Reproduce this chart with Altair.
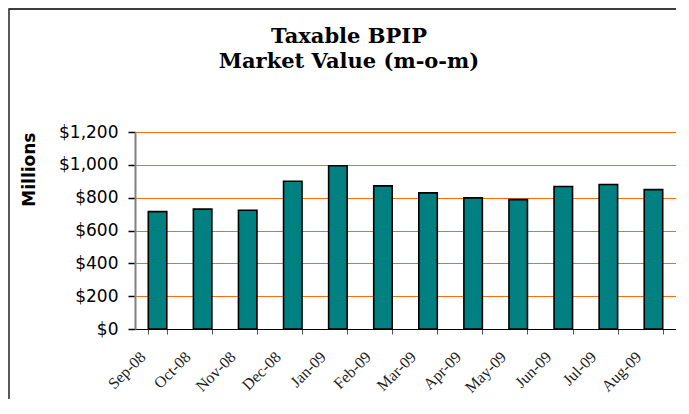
import altair as alt
import pandas as pd

months = ["Sep-08", "Oct-08", "Nov-08", "Dec-08", "Jan-09", "Feb-09",
          "Mar-09", "Apr-09", "May-09", "Jun-09", "Jul-09", "Aug-09"]
values = [715, 730, 723, 900, 994, 872, 829, 799, 788, 868, 880, 849]
y_ticks = [0, 200, 400, 600, 800, 1000, 1200]
title_lines = ["Taxable BPIP", "Market Value (m-o-m)"]

df = pd.DataFrame({"month": months, "value": values})

W, H = 541, 197

bars = alt.Chart(df).mark_bar(
    color="#008080", stroke="black", strokeWidth=1.6
).encode(
    x=alt.X("month:N", sort=months, title=None,
            scale=alt.Scale(paddingInner=0.59, paddingOuter=0.295),
            axis=alt.Axis(labelAngle=-45, labelAlign="right", labelBaseline="middle",
                          labelFont="Liberation Serif", labelFontSize=16, labelColor="#222",
                          labelOffset=-15, labelPadding=20,
                          tickBand="extent", tickSize=5, tickColor="#555",
                          domainColor="black", domainWidth=1.2, grid=False)),
    y=alt.Y("value:Q", title="Millions",
            scale=alt.Scale(domain=[0, 1200], nice=False),
            axis=alt.Axis(values=y_ticks, format="$,.0f",
                          labelFont="DejaVu Sans", labelFontSize=17, labelColor="black",
                          labelPadding=10, tickSize=7, tickColor="black", tickWidth=1.5,
                          domainColor="#808080", domainWidth=2,
                          grid=True, gridColor="#FF6A10", gridWidth=1.2,
                          titleFont="DejaVu Sans", titleFontWeight="bold", titleFontSize=17,
                          titleAngle=270, titleX=-106, titleY=0,
                          titleAlign="right", titleBaseline="middle", titleColor="black"))
)

one = alt.Data(values=[{}])

frame = alt.Chart(one).mark_rect(
    fill="transparent", stroke="black", strokeWidth=1.3, clip=False
).encode(
    x=alt.value(-126), x2=alt.value(W + 100),
    y=alt.value(-123), y2=alt.value(H + 200)
)

title_style = dict(font="DejaVu Serif", fontSize=21, fontWeight="bold",
                   align="center", baseline="alphabetic", color="black")
title1 = alt.Chart(one).mark_text(**title_style).encode(
    x=alt.value(214), y=alt.value(-89), text=alt.value(title_lines[0]))
title2 = alt.Chart(one).mark_text(**title_style).encode(
    x=alt.value(214), y=alt.value(-64), text=alt.value(title_lines[1]))

chart = alt.layer(bars, frame, title1, title2).properties(
    width=W, height=H,
    autosize=alt.AutoSizeParams(type="none"),
    padding={"left": 127, "top": 124, "right": 0, "bottom": 70},
    background="white"
).configure_view(stroke=None)

chart.save("out.html", embed_options={"renderer": "svg", "actions": False})
